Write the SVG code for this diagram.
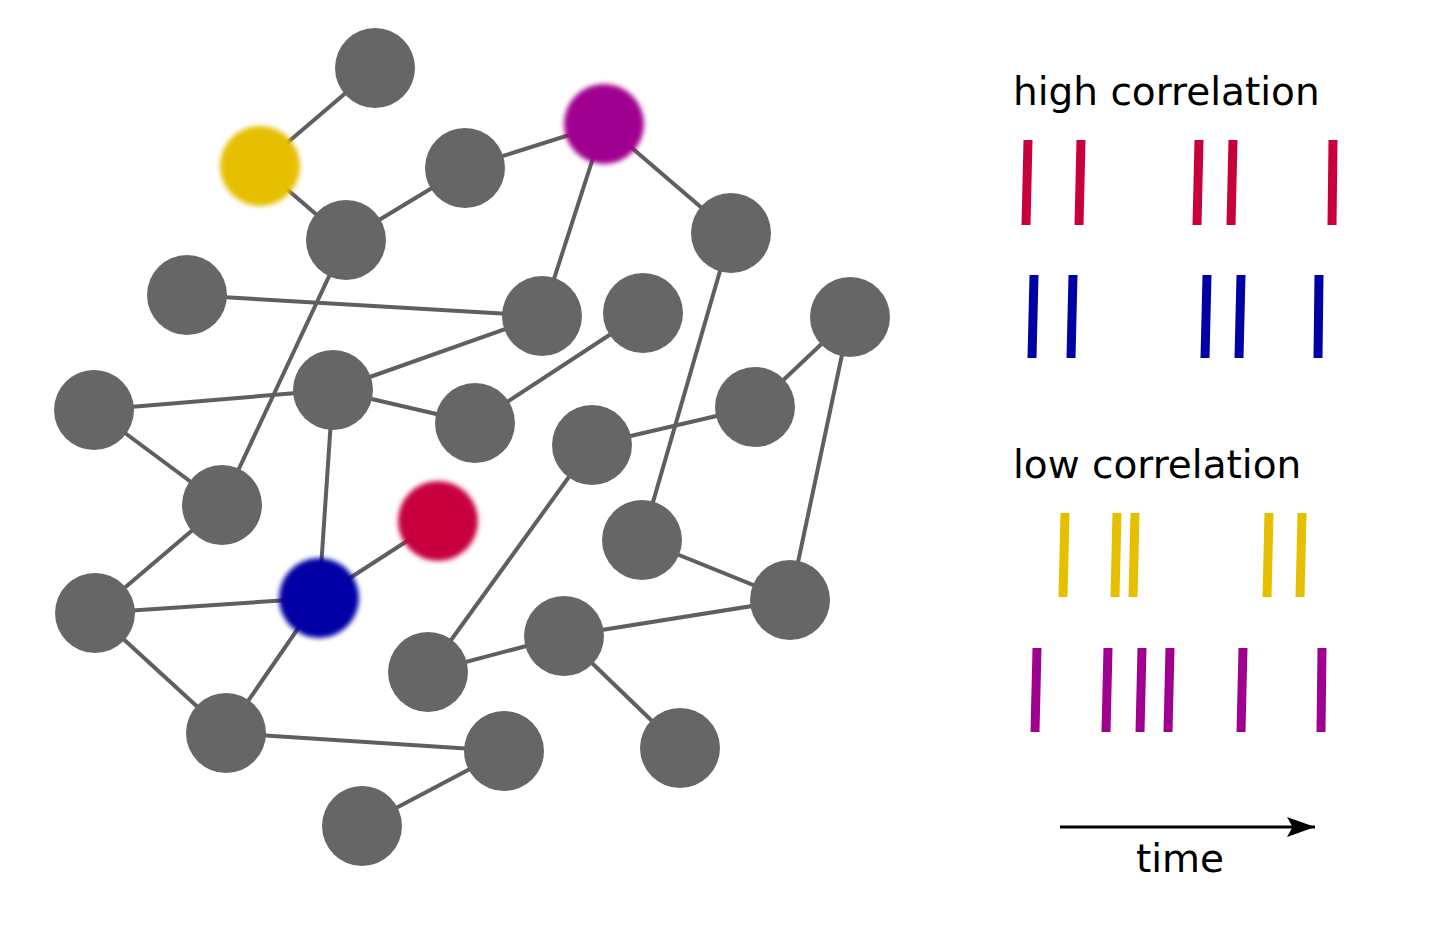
<svg xmlns="http://www.w3.org/2000/svg" width="1440" height="934" viewBox="0 0 1440 934">
<style>
.n{fill:#666666}
.e line{stroke:#5f5f5f;stroke-width:4}
.t{font-family:"DejaVu Sans",sans-serif;font-size:39px;fill:#000}
.sr{stroke:#c8003c;stroke-width:9}
.sb{stroke:#0000a5;stroke-width:9}
.sy{stroke:#e6bf00;stroke-width:9}
.sp{stroke:#a0008f;stroke-width:9}
</style>
<defs>
<filter id="blur" x="-20%" y="-20%" width="140%" height="140%"><feGaussianBlur stdDeviation="2.5"/></filter>
<marker id="ar" markerWidth="10" markerHeight="10" refX="9" refY="5" orient="auto" markerUnits="userSpaceOnUse"><path d="M0,0 L30,5 L0,10 z" transform="scale(1)"/></marker>
<marker id="ah" viewBox="0 0 10 10" refX="10" refY="5" markerWidth="28" markerHeight="20" markerUnits="userSpaceOnUse" orient="auto" preserveAspectRatio="none"><path d="M0,0 L10,5 L0,10 L2,5 z" fill="#000"/></marker>
</defs>
<rect width="1440" height="934" fill="#fff"/>
<g id="connectors" class="e">
<line x1="375" y1="68" x2="260" y2="166"/>
<line x1="260" y1="166" x2="346" y2="240"/>
<line x1="346" y1="240" x2="465" y2="168"/>
<line x1="465" y1="168" x2="604" y2="124"/>
<line x1="604" y1="124" x2="542" y2="316"/>
<line x1="604" y1="124" x2="731" y2="233"/>
<line x1="187" y1="295" x2="542" y2="316"/>
<line x1="346" y1="240" x2="222" y2="505"/>
<line x1="94" y1="410" x2="333" y2="390"/>
<line x1="333" y1="390" x2="542" y2="316"/>
<line x1="333" y1="390" x2="475" y2="423"/>
<line x1="475" y1="423" x2="643" y2="313"/>
<line x1="94" y1="410" x2="222" y2="505"/>
<line x1="222" y1="505" x2="95" y2="613"/>
<line x1="333" y1="390" x2="319" y2="598"/>
<line x1="319" y1="598" x2="438" y2="521"/>
<line x1="95" y1="613" x2="319" y2="598"/>
<line x1="95" y1="613" x2="226" y2="733"/>
<line x1="319" y1="598" x2="226" y2="733"/>
<line x1="731" y1="233" x2="642" y2="540"/>
<line x1="755" y1="407" x2="850" y2="317"/>
<line x1="850" y1="317" x2="790" y2="600"/>
<line x1="592" y1="445" x2="755" y2="407"/>
<line x1="592" y1="445" x2="428" y2="672"/>
<line x1="642" y1="540" x2="790" y2="600"/>
<line x1="428" y1="672" x2="564" y2="636"/>
<line x1="564" y1="636" x2="790" y2="600"/>
<line x1="564" y1="636" x2="680" y2="748"/>
<line x1="226" y1="733" x2="504" y2="751"/>
<line x1="504" y1="751" x2="362" y2="826"/>
</g>
<g id="n1"><circle class="n" cx="375" cy="68" r="40"/></g>
<g id="yellow"><circle cx="260" cy="166" r="40" fill="#e6bf00" filter="url(#blur)"/></g>
<g id="purple"><circle cx="604" cy="124" r="40" fill="#a0008f" filter="url(#blur)"/></g>
<g id="n2"><circle class="n" cx="465" cy="168" r="40"/></g>
<g id="n3"><circle class="n" cx="346" cy="240" r="40"/></g>
<g id="n4"><circle class="n" cx="731" cy="233" r="40"/></g>
<g id="n5"><circle class="n" cx="187" cy="295" r="40"/></g>
<g id="n6"><circle class="n" cx="542" cy="316" r="40"/></g>
<g id="n7"><circle class="n" cx="643" cy="313" r="40"/></g>
<g id="n8"><circle class="n" cx="850" cy="317" r="40"/></g>
<g id="n9"><circle class="n" cx="94" cy="410" r="40"/></g>
<g id="n10"><circle class="n" cx="333" cy="390" r="40"/></g>
<g id="n11"><circle class="n" cx="475" cy="423" r="40"/></g>
<g id="n12"><circle class="n" cx="755" cy="407" r="40"/></g>
<g id="n13"><circle class="n" cx="592" cy="445" r="40"/></g>
<g id="n14"><circle class="n" cx="222" cy="505" r="40"/></g>
<g id="red"><circle cx="438" cy="521" r="40" fill="#c8003c" filter="url(#blur)"/></g>
<g id="n15"><circle class="n" cx="642" cy="540" r="40"/></g>
<g id="n16"><circle class="n" cx="95" cy="613" r="40"/></g>
<g id="blue"><circle cx="319" cy="598" r="40" fill="#0000a5" filter="url(#blur)"/></g>
<g id="n17"><circle class="n" cx="790" cy="600" r="40"/></g>
<g id="n18"><circle class="n" cx="564" cy="636" r="40"/></g>
<g id="n19"><circle class="n" cx="428" cy="672" r="40"/></g>
<g id="n20"><circle class="n" cx="226" cy="733" r="40"/></g>
<g id="n21"><circle class="n" cx="504" cy="751" r="40"/></g>
<g id="n22"><circle class="n" cx="680" cy="748" r="40"/></g>
<g id="n23"><circle class="n" cx="362" cy="826" r="40"/></g>
<g id="legend">
<text class="t" x="1013" y="105">high correlation</text>
<g class="sr"><line x1="1028" y1="140" x2="1026" y2="225"/><line x1="1081" y1="140" x2="1079" y2="225"/><line x1="1199" y1="140" x2="1197" y2="225"/><line x1="1233" y1="140" x2="1231" y2="225"/><line x1="1333" y1="140" x2="1332" y2="225"/></g>
<g class="sb"><line x1="1034" y1="275" x2="1032" y2="358"/><line x1="1073" y1="275" x2="1071" y2="358"/><line x1="1207" y1="275" x2="1205" y2="358"/><line x1="1241" y1="275" x2="1239" y2="358"/><line x1="1319" y1="275" x2="1318" y2="358"/></g>
<text class="t" x="1013" y="478">low correlation</text>
<g class="sy"><line x1="1065" y1="513" x2="1063" y2="597"/><line x1="1117" y1="513" x2="1115" y2="597"/><line x1="1135" y1="513" x2="1133" y2="597"/><line x1="1269" y1="513" x2="1267" y2="597"/><line x1="1302" y1="513" x2="1300" y2="597"/></g>
<g class="sp"><line x1="1037" y1="648" x2="1035" y2="732"/><line x1="1108" y1="648" x2="1106" y2="732"/><line x1="1142" y1="648" x2="1140" y2="732"/><line x1="1170" y1="648" x2="1168" y2="732"/><line x1="1243" y1="648" x2="1241" y2="732"/><line x1="1322" y1="648" x2="1321" y2="732"/></g>
<line x1="1060" y1="827" x2="1315" y2="827" stroke="#000" stroke-width="3" marker-end="url(#ah)"/>
<text class="t" x="1180" y="872" text-anchor="middle">time</text>
</g>
</svg>
